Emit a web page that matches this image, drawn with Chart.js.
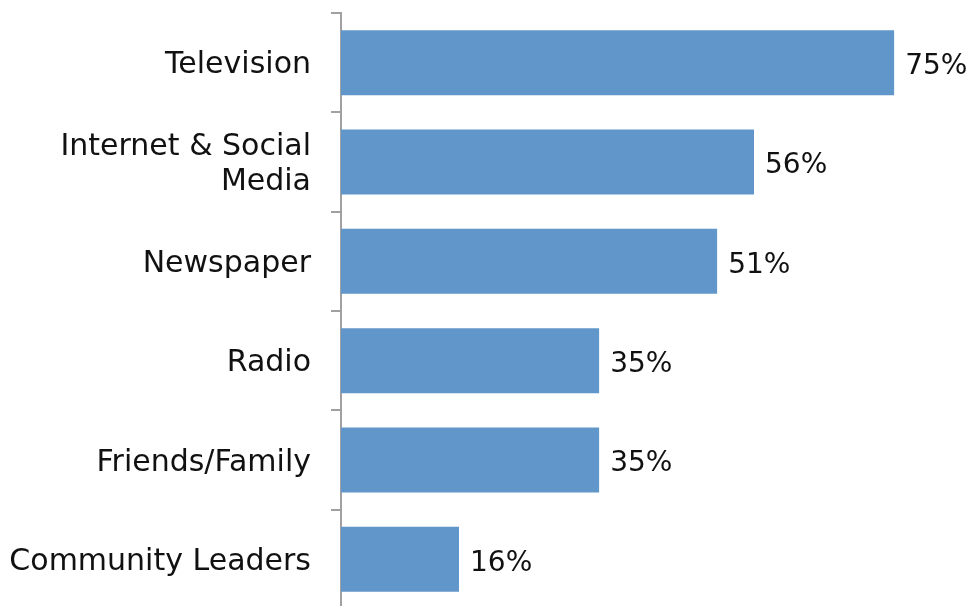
<!DOCTYPE html>
<html>
<head>
<meta charset="utf-8">
<script src="https://cdn.jsdelivr.net/npm/chart.js@4"></script>
<style>
html,body{margin:0;padding:0;background:#fff;overflow:hidden;}
#wrap{width:969px;height:620px;}
</style>
</head>
<body>
<div id="wrap"><canvas id="c" width="969" height="620"></canvas></div>
<script>
const categories = ["Television", ["Internet & Social", "Media"], "Newspaper", "Radio", "Friends/Family", "Community Leaders"];
const values = [75, 56, 51, 35, 35, 16];
const valueLabels = ["75%", "56%", "51%", "35%", "35%", "16%"];

const FONT = "'DejaVu Sans', sans-serif";
const FS = 30;
const VFS = 28;

const valueLabelPlugin = {
  id: 'valueLabels',
  afterDatasetsDraw(chart) {
    const ctx = chart.ctx;
    const meta = chart.getDatasetMeta(0);
    ctx.save();
    ctx.font = VFS + "px " + FONT;
    ctx.fillStyle = "#111";
    ctx.textAlign = "left";
    ctx.textBaseline = "middle";
    meta.data.forEach((bar, i) => {
      ctx.fillText(valueLabels[i], bar.x + 11, bar.y + 4);
    });
    ctx.restore();
  }
};

new Chart(document.getElementById('c'), {
  type: 'bar',
  data: {
    labels: categories,
    datasets: [{
      data: values,
      backgroundColor: '#6096C9',
      borderWidth: 0,
      categoryPercentage: 0.655,
      barPercentage: 1.0
    }]
  },
  options: {
    indexAxis: 'y',
    responsive: false,
    animation: false,
    devicePixelRatio: 1,
    layout: { padding: { top: 13, right: 38, bottom: 11, left: 0 } },
    plugins: { legend: { display: false }, tooltip: { enabled: false } },
    scales: {
      x: { display: false, min: 0, max: 80 },
      y: {
        afterFit(s) { s.width = 341; s.paddingTop = 0; s.paddingBottom = 0; },
        border: { display: true, color: '#a0a0a0', width: 2 },
        grid: { display: true, drawOnChartArea: false, color: '#a0a0a0', lineWidth: 2, tickLength: 10, offset: true },
        ticks: { color: '#111', padding: 20, labelOffset: 3, font: { family: FONT, size: FS, lineHeight: 1.17 } }
      }
    }
  },
  plugins: [valueLabelPlugin]
});
</script>
</body>
</html>
